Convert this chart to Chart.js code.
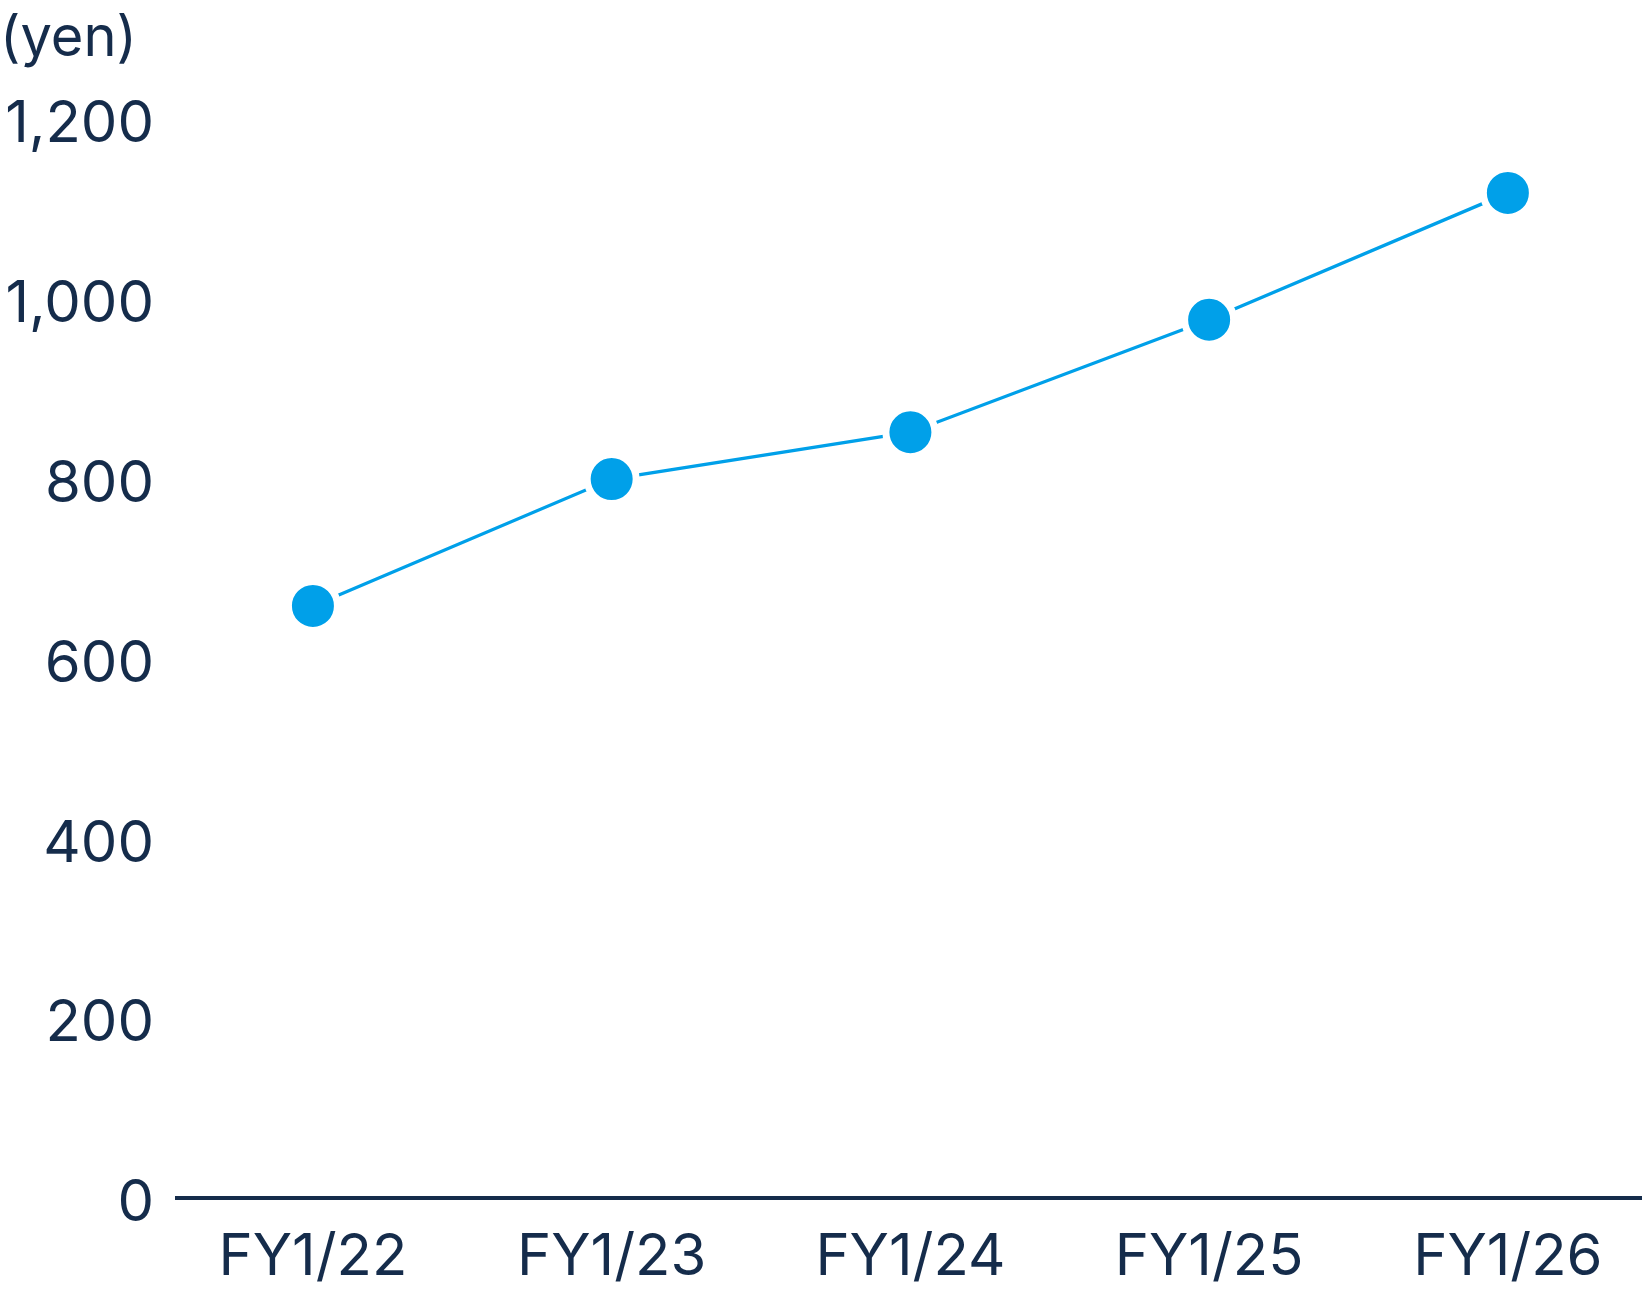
<!DOCTYPE html>
<html>
<head>
<meta charset="utf-8">
<script src="https://cdn.jsdelivr.net/npm/chart.js@4"></script>
<style>
  html, body { margin: 0; padding: 0; background: #fff; }
  canvas { display: block; }
</style>
</head>
<body>
<canvas id="myChart" width="1642" height="1292"></canvas>
<script>
'use strict';

// data
let categories = ['FY1/22', 'FY1/23', 'FY1/24', 'FY1/25', 'FY1/26'];
let values = [658, 799, 851, 976, 1117];
let yTicks = [0, 200, 400, 600, 800, 1000, 1200];

let navy = '#152c4b';
let blue = '#00a0e9';

let points = values.map(function (v, i) {
    return { x: i, y: v };
});

function chartRender() {
    let ctx = document.getElementById('myChart').getContext('2d');
    new Chart(ctx, {
        type: 'line',
        data: {
            datasets: [{
                data: points,
                borderColor: blue,
                borderWidth: 3.3,
                backgroundColor: blue,
                pointBackgroundColor: blue,
                pointBorderColor: '#ffffff',
                pointBorderWidth: 7,
                pointRadius: 24.5,
                pointHoverRadius: 24.5,
                pointHoverBorderWidth: 7,
                tension: 0
            }]
        },
        options: {
            responsive: false,
            animation: false,
            devicePixelRatio: 1,
            events: [],
            layout: { padding: 0, autoPadding: false },
            plugins: {
                legend: { display: false },
                tooltip: { enabled: false },
                title: {
                    display: true,
                    text: '(yen)',
                    align: 'start',
                    color: navy,
                    font: { family: 'Inter', size: 56, weight: 'normal', lineHeight: 1.2 },
                    padding: { top: 6, bottom: 45 }
                }
            },
            scales: {
                x: {
                    type: 'linear',
                    min: -0.455,
                    max: 4.449,
                    grid: { display: false, drawTicks: false },
                    border: { display: true, color: navy, width: 4 },
                    afterBuildTicks: function (scale) {
                        scale.ticks = categories.map(function (c, i) { return { value: i }; });
                    },
                    afterFit: function (scale) {
                        scale.height = 94;
                        scale.paddingLeft = 0;
                        scale.paddingRight = 0;
                    },
                    ticks: {
                        color: navy,
                        padding: 25,
                        maxRotation: 0,
                        autoSkip: false,
                        font: { family: 'Inter', size: 58 },
                        callback: function (v) { return categories[v]; }
                    }
                },
                y: {
                    min: 0,
                    max: 1200,
                    grid: { display: false, drawTicks: false },
                    border: { display: false },
                    afterBuildTicks: function (scale) {
                        scale.ticks = yTicks.map(function (t) { return { value: t }; });
                    },
                    afterFit: function (scale) {
                        scale.width = 177;
                        scale.paddingTop = 0;
                        scale.paddingBottom = 0;
                    },
                    ticks: {
                        color: navy,
                        padding: 23,
                        labelOffset: 6,
                        font: { family: 'Inter', size: 58 },
                        callback: function (v) { return v.toLocaleString('en-US'); }
                    }
                }
            }
        }
    });
}

chartRender();
</script>
</body>
</html>
